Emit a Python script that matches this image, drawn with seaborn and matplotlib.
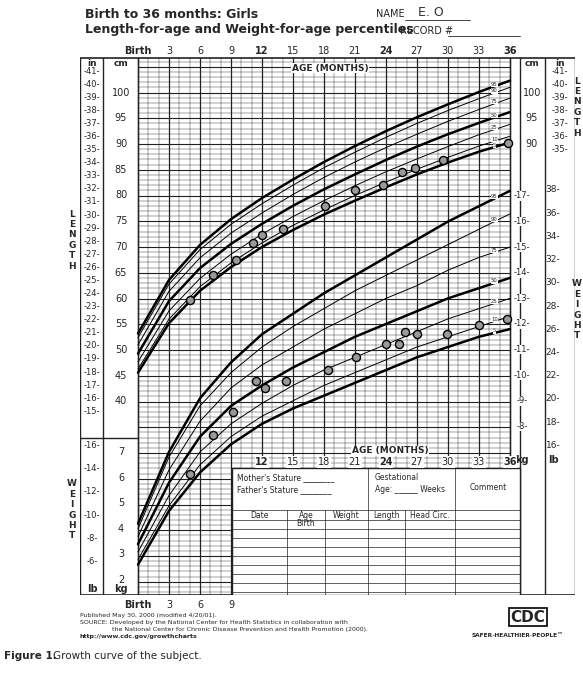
import numpy as np
import matplotlib
matplotlib.use("Agg")
import matplotlib.pyplot as plt
import seaborn as sns
import pandas as pd

sns.set_theme(style="white")
plt.rcParams['font.family'] = ['DejaVu Sans']

months = [0, 3, 6, 9, 12, 15, 18, 21, 24, 27, 30, 33, 36]
len_pcts = ["5", "10", "25", "50", "75", "90", "95"]
len_curves = {
    "5":  [45.6, 55.2, 61.5, 66.1, 70.0, 73.3, 76.3, 79.0, 81.6, 84.1, 86.4, 88.5, 90.3],
    "10": [46.3, 56.0, 62.3, 66.9, 70.8, 74.2, 77.2, 80.0, 82.6, 85.1, 87.4, 89.6, 91.5],
    "25": [47.7, 57.6, 63.9, 68.6, 72.5, 75.9, 79.0, 81.9, 84.6, 87.1, 89.5, 91.8, 93.8],
    "50": [49.3, 59.5, 65.9, 70.6, 74.5, 78.0, 81.2, 84.1, 86.9, 89.5, 91.9, 94.1, 96.2],
    "75": [51.0, 61.4, 67.9, 72.7, 76.6, 80.2, 83.5, 86.5, 89.3, 91.9, 94.4, 96.7, 98.9],
    "90": [52.4, 62.8, 69.5, 74.4, 78.4, 82.0, 85.4, 88.4, 91.3, 94.0, 96.5, 98.8, 101.0],
    "95": [53.2, 63.6, 70.4, 75.4, 79.5, 83.1, 86.5, 89.6, 92.5, 95.2, 97.7, 100.1, 102.3],
}
wt_curves = {
    "5":  [2.6, 4.7, 6.2, 7.3, 8.1, 8.7, 9.2, 9.7, 10.2, 10.7, 11.1, 11.5, 11.8],
    "10": [2.8, 4.9, 6.5, 7.6, 8.4, 9.0, 9.6, 10.1, 10.6, 11.1, 11.5, 11.9, 12.3],
    "25": [3.1, 5.3, 7.0, 8.1, 8.9, 9.6, 10.2, 10.7, 11.2, 11.7, 12.2, 12.6, 13.0],
    "50": [3.4, 5.8, 7.6, 8.8, 9.6, 10.3, 10.9, 11.5, 12.0, 12.5, 13.0, 13.4, 13.8],
    "75": [3.7, 6.3, 8.2, 9.5, 10.4, 11.1, 11.8, 12.4, 13.0, 13.5, 14.1, 14.6, 15.0],
    "90": [4.0, 6.8, 8.8, 10.1, 11.1, 11.9, 12.6, 13.3, 13.9, 14.5, 15.1, 15.7, 16.3],
    "95": [4.2, 7.0, 9.1, 10.5, 11.6, 12.4, 13.2, 13.9, 14.6, 15.3, 16.0, 16.6, 17.2],
}
subj_len_age = [5.0, 7.3, 9.5, 11.1, 12.0, 14.0, 18.1, 21.0, 23.7, 25.6, 26.8, 29.5, 35.8]
subj_len_cm = [59.7, 64.6, 67.5, 70.8, 72.3, 73.5, 78.0, 81.1, 82.0, 84.6, 85.3, 86.9, 90.2]
subj_wt_age = [5.0, 7.3, 9.2, 11.4, 12.3, 14.3, 18.4, 21.1, 24.0, 25.3, 25.8, 27.0, 29.9, 33.0, 35.7]
subj_wt_kg = [6.14, 7.66, 8.55, 9.77, 9.5, 9.77, 10.2, 10.7, 11.2, 11.2, 11.7, 11.6, 11.6, 11.96, 12.2]

W, H = 583, 674
fig = plt.figure(figsize=(W/100, H/100), dpi=100)
TOP, BOT = 44, 595
ax = fig.add_axes([80/W, 1-BOT/H, 495/W, (BOT-TOP)/H])
def mx(px): return (px-138)/10.33
def cmy(py): return 50+(350-py)/5.15
ax.set_xlim(mx(80), mx(575))
ax.set_ylim(cmy(BOT), cmy(TOP))
ax.axis("off")
def kg2cm(kg):
    py = 580-(np.asarray(kg)-2)*25.6
    return 50+(350-py)/5.15

lc = "#222222"
y0, y1 = cmy(595), cmy(58)
for m in range(0, 37):
    ax.plot([m, m], [y0, y1], color=lc, lw=0.9 if m % 3 == 0 else 0.3, zorder=1)
for c in range(int(np.ceil(y0)), int(y1)+1):
    ax.plot([0, 36], [c, c], color=lc, lw=0.8 if c % 5 == 0 else 0.3, zorder=1)
for px in [80, 103, 138, 510, 520, 545, 575]:
    ax.plot([mx(px)]*2, [y0, y1], color=lc, lw=1.0)
for py in [58, 595]:
    ax.plot([mx(80), mx(575)], [cmy(py)]*2, color=lc, lw=1.2)

long_rows = []
for p in len_pcts:
    for m, v in zip(months, len_curves[p]):
        long_rows.append(("L"+p, m, v))
    for m, v in zip(months, wt_curves[p]):
        long_rows.append(("W"+p, m, float(kg2cm(v))))
df = pd.DataFrame(long_rows, columns=["curve", "month", "y"])
for name, g in df.groupby("curve"):
    p = name[1:]
    lw = 1.8 if p in ("5", "50", "95") else 0.7
    sns.lineplot(data=g, x="month", y="y", ax=ax, color="black", lw=lw, legend=False)
    ax.text(34.5, np.interp(34.5, g["month"], g["y"]) + 0.4,
            p, fontsize=3.8, ha="center", va="center",
            bbox=dict(fc="white", ec="none", pad=0.1))

sns.scatterplot(x=subj_len_age, y=subj_len_cm, ax=ax, s=34, facecolor="#999999",
                edgecolor="black", linewidth=1.0, zorder=5)
sns.scatterplot(x=subj_wt_age, y=list(kg2cm(subj_wt_kg)), ax=ax, s=34, facecolor="#999999",
                edgecolor="black", linewidth=1.0, zorder=5)

ax.add_patch(plt.Rectangle((mx(232), cmy(595)), mx(520)-mx(232), cmy(468)-cmy(595),
                           fc="white", ec=lc, lw=1, zorder=6))
for py in [510]+list(range(520, 596, 9)):
    ax.plot([mx(232), mx(520)], [cmy(py)]*2, color=lc, lw=0.5, zorder=7)
for px in [287, 325, 368, 405, 455]:
    ax.plot([mx(px)]*2, [cmy(510), cmy(595)], color=lc, lw=0.5, zorder=7)
ax.plot([mx(368)]*2, [cmy(468), cmy(510)], color=lc, lw=0.5, zorder=7)
ax.plot([mx(455)]*2, [cmy(468), cmy(510)], color=lc, lw=0.5, zorder=7)
tk = dict(fontsize=5.5, zorder=8)
ax.text(mx(237), cmy(478), "Mother's Stature ________", va="center", **tk)
ax.text(mx(237), cmy(490), "Father's Stature ________", va="center", **tk)
ax.text(mx(375), cmy(478), "Gestational", va="center", **tk)
ax.text(mx(375), cmy(490), "Age: ______ Weeks", va="center", **tk)
ax.text(mx(488), cmy(487), "Comment", ha="center", va="center", **tk)
for px, t in [(259, "Date"), (306, "Age"), (346, "Weight"), (386, "Length"), (430, "Head Circ.")]:
    ax.text(mx(px), cmy(515), t, ha="center", va="center", **tk)
ax.text(mx(306), cmy(524), "Birth", ha="center", va="center", **tk)

for m, lab in zip(months, ["Birth", "3", "6", "9", "12", "15", "18", "21", "24", "27", "30", "33", "36"]):
    fw = "bold" if m in (0, 12, 24, 36) else "normal"
    ax.text(m, cmy(51), lab, ha="center", va="center", fontsize=7, fontweight=fw)
for m, lab in [(0, "Birth"), (3, "3"), (6, "6"), (9, "9")]:
    ax.text(m, cmy(605), lab, ha="center", va="center", fontsize=7, fontweight="bold" if m == 0 else "normal")
for m in [12, 15, 18, 21, 24, 27, 30, 33, 36]:
    ax.text(m, cmy(462), str(m), ha="center", va="center", fontsize=7,
            fontweight="bold" if m in (12, 24, 36) else "normal",
            bbox=dict(fc="white", ec="none", pad=0.4), zorder=8)
ax.text(mx(330), cmy(68), "AGE (MONTHS)", ha="center", va="center", fontsize=6.5, fontweight="bold",
        bbox=dict(fc="white", ec="none", pad=0.5))
ax.text(mx(390), cmy(451), "AGE (MONTHS)", ha="center", va="center", fontsize=6.5, fontweight="bold",
        bbox=dict(fc="white", ec="none", pad=0.5), zorder=8)

for inch in range(15, 42):
    ax.text(mx(92), inch*2.54, "-%d-" % inch, ha="center", va="center", fontsize=6)
for c in range(40, 101, 5):
    ax.text(mx(121), c, str(c), ha="center", va="center", fontsize=7,
            bbox=dict(fc="white", ec="none", pad=0.3))
ax.text(mx(92), cmy(63), "in", ha="center", va="center", fontsize=6.5, fontweight="bold")
ax.text(mx(121), cmy(63), "cm", ha="center", va="center", fontsize=6.5, fontweight="bold")
for c in [90, 95, 100]:
    ax.text(mx(532), c, str(c), ha="center", va="center", fontsize=7,
            bbox=dict(fc="white", ec="none", pad=0.3))
for inch in range(35, 42):
    ax.text(mx(560), inch*2.54, "-%d-" % inch, ha="center", va="center", fontsize=6)
ax.text(mx(532), cmy(63), "cm", ha="center", va="center", fontsize=6.5, fontweight="bold")
ax.text(mx(560), cmy(63), "in", ha="center", va="center", fontsize=6.5, fontweight="bold")
for kg in range(8, 18):
    ax.text(mx(522), float(kg2cm(kg)), "-%d-" % kg, ha="center", va="center", fontsize=6,
            bbox=dict(fc="white", ec="none", pad=0.2))
for lb in range(16, 39, 2):
    ax.text(mx(553), float(kg2cm(lb/2.2046)), "%d-" % lb, ha="center", va="center", fontsize=6.5)
ax.text(mx(522), cmy(460), "kg", ha="center", va="center", fontsize=7, fontweight="bold")
ax.text(mx(553), cmy(460), "lb", ha="center", va="center", fontsize=7, fontweight="bold")
for kg in range(2, 8):
    ax.text(mx(121), float(kg2cm(kg)), str(kg), ha="center", va="center", fontsize=7,
            bbox=dict(fc="white", ec="none", pad=0.3))
for lb in range(6, 17, 2):
    ax.text(mx(92), float(kg2cm(lb/2.2046)), "-%d-" % lb, ha="center", va="center", fontsize=6)
ax.text(mx(92), cmy(589), "lb", ha="center", va="center", fontsize=7, fontweight="bold")
ax.text(mx(121), cmy(589), "kg", ha="center", va="center", fontsize=7, fontweight="bold")
ax.plot([mx(80), mx(138)], [cmy(438)]*2, color=lc, lw=1)

def vword(x_px, y_px, word):
    fig.text(x_px/W, 1-y_px/H, "\n".join(word), ha="center", va="center", fontsize=6.5,
             fontweight="bold", linespacing=1.2)
vword(72, 240, "LENGTH")
vword(72, 510, "WEIGHT")
vword(577, 107, "LENGTH")
vword(577, 310, "WEIGHT")

fig.text(85/W, 1-14/H, "Birth to 36 months: Girls", fontsize=9, fontweight="bold", va="center")
fig.text(85/W, 1-30/H, "Length-for-age and Weight-for-age percentiles", fontsize=9,
         fontweight="bold", va="center")
fig.text(376/W, 1-14/H, "NAME", fontsize=7, va="center")
fig.text(418/W, 1-12/H, "E. O", fontsize=9, va="center", color="#333333")
fig.add_artist(plt.Line2D([405/W, 470/W], [1-20/H]*2, color=lc, lw=0.6))
fig.text(400/W, 1-31/H, "RECORD #", fontsize=7, va="center")
fig.add_artist(plt.Line2D([448/W, 520/W], [1-36/H]*2, color=lc, lw=0.6))

fig.text(80/W, 1-617/H, "Published May 30, 2000 (modified 4/20/01).", fontsize=4.5)
fig.text(80/W, 1-624/H, "SOURCE: Developed by the National Center for Health Statistics in collaboration with",
         fontsize=4.5)
fig.text(112/W, 1-631/H, "the National Center for Chronic Disease Prevention and Health Promotion (2000).",
         fontsize=4.5)
fig.text(80/W, 1-638/H, "http://www.cdc.gov/growthcharts", fontsize=4.5, fontweight="bold")
fig.text(528/W, 1-617/H, "CDC", fontsize=11, fontweight="bold", ha="center", va="center",
         bbox=dict(fc="white", ec="black", lw=1.2, pad=1))
fig.text(518/W, 1-637/H, "SAFER·HEALTHIER·PEOPLE™", fontsize=4.2, fontweight="bold", ha="center")
fig.text(4/W, 1-656/H, "Figure 1.", fontsize=7.5, fontweight="bold", va="center")
fig.text(53/W, 1-656/H, "Growth curve of the subject.", fontsize=7.5, va="center")

fig.savefig("out.png", dpi=100)
